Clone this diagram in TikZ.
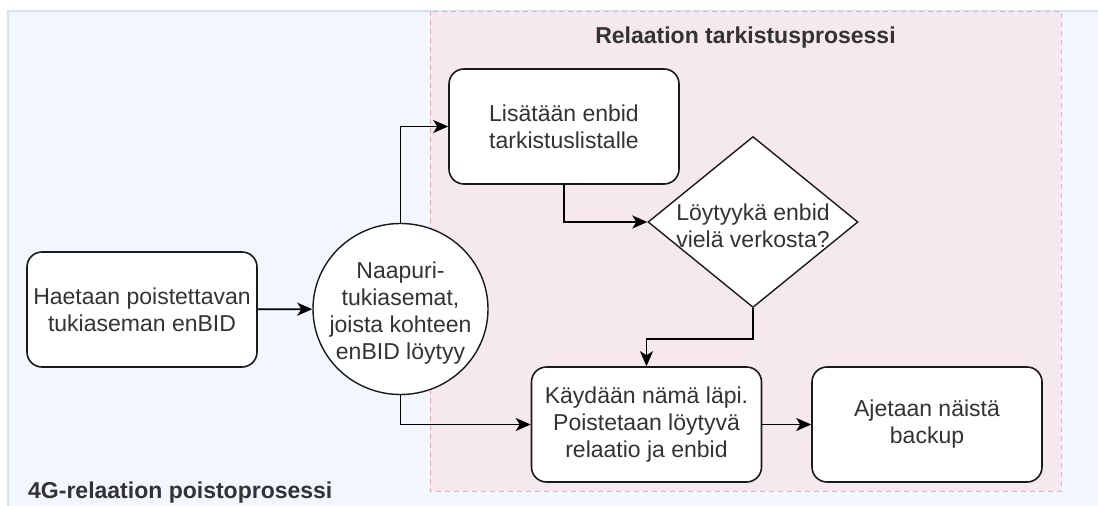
\documentclass[tikz,border=0pt]{standalone}
\usepackage{fontspec}
\setmainfont{Liberation Sans}
\usetikzlibrary{arrows.meta,shapes.geometric}
\definecolor{outerfill}{HTML}{F2F6FD}
\definecolor{outerline}{HTML}{D4E1F5}
\definecolor{innerfill}{HTML}{F5E8EE}
\definecolor{innerline}{HTML}{E8AEB8}
\definecolor{ink}{HTML}{333333}
\definecolor{stroke}{HTML}{1A1A1A}

\begin{document}
\begin{tikzpicture}[x=1pt,y=-1pt,
  every node/.style={font=\fontsize{23}{27}\selectfont, text=ink},
  procbox/.style={draw=stroke, line width=1.6pt, fill=white, rounded corners=15pt,
    minimum width=230pt, minimum height=115pt, align=center, inner sep=0pt},
  hub/.style={draw=stroke, line width=1.4pt, fill=white, ellipse,
    minimum width=175pt, minimum height=171pt, inner sep=0pt, align=center},
  decision/.style={draw=stroke, line width=1.4pt, fill=white, diamond,
    minimum width=210pt, minimum height=171pt, inner sep=0pt},
  flow/.style={draw=black, line width=1.8pt, -{Stealth[length=15pt,width=13pt,inset=4pt]}},
  heading/.style={font=\bfseries\fontsize{23}{27}\selectfont, inner sep=0pt}
]
\useasboundingbox (0,0) rectangle (1098,506);
\fill[white] (0,0) rectangle (1098,506);

% outer process area and the dashed checking sub-process
\filldraw[fill=outerfill, draw=outerline, line width=1.5pt] (8,11) rectangle (1120,530);
\filldraw[fill=innerfill, draw=innerline, line width=1pt, dash pattern=on 5pt off 4pt]
  (430,11) rectangle (1061,491);

\node[heading] (checktitle) at (745.5,38) {Relaation tarkistusprosessi};
\node[heading, anchor=west] (maintitle) at (28,493) {4G-relaation poistoprosessi};

% steps
\node[procbox] (fetch) at (142,309.5) {Haetaan poistettavan\\tukiaseman enBID};
\node[hub] (nbrs) at (400.5,309) {};
\node[align=center] (nbrstxt) at (400.5,313) {Naapuri-\\tukiasemat,\\joista kohteen\\enBID löytyy};
\node[procbox] (addlist) at (564,126.5) {Lisätään enbid\\tarkistuslistalle};
\node[decision] (found) at (753,222) {};
\node[align=center] (foundtxt) at (753,226) {Löytyykä enbid\\vielä verkosta?};
\node[procbox] (walk) at (646.5,424.5) {Käydään nämä läpi.\\Poistetaan löytyvä\\relaatio ja enbid};
\node[procbox] (backup) at (927,424.5) {Ajetaan näistä\\backup};

% connectors
\draw[flow] (fetch) -- (nbrs);
\draw[flow] (nbrs.north) |- (addlist.west);
\draw[flow] (nbrs.south) |- (walk.west);
\draw[flow] (addlist.south) |- (found.west);
\draw[flow] (found.south) -- ++(0,31) -| (walk.north);
\draw[flow] (walk) -- (backup);
\end{tikzpicture}
\end{document}
